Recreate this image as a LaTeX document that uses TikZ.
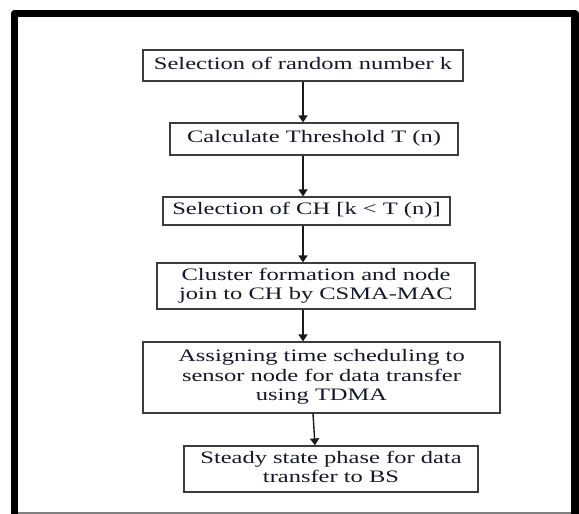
\documentclass[tikz,border=0pt]{standalone}
\usepackage{fontspec}
\setmainfont{Liberation Serif}
\usetikzlibrary{arrows.meta}
\definecolor{inkc}{RGB}{22,22,40}
\definecolor{edgec}{RGB}{60,60,60}
\newcommand{\widetxt}[1]{\scalebox{1.4}[1]{\fontsize{17.5}{19.5}\selectfont\begin{tabular}{@{}c@{}}#1\end{tabular}}}
\tikzset{
  box/.style={draw=edgec, line width=1.2pt, inner sep=0pt, text=inkc},
  arr/.style={draw=black!90, line width=1.4pt, -{Triangle[width=9pt,length=7pt]}}
}
\begin{document}
\begin{tikzpicture}[x=1pt,y=-1pt]
\useasboundingbox (0,0) rectangle (579,514);
\draw[line width=7.5pt, line join=round] (14.5,520) -- (14.5,13.5) -- (575,13.5) -- (575,520);
\draw[gray, line width=1.5pt] (18,513) -- (571,513);
\node[box, minimum width=320pt, minimum height=31pt] (st0) at (303,65.5){\widetxt{Selection of random number k}};
\node[box, minimum width=288pt, minimum height=32pt] (st1) at (314,139){\widetxt{Calculate Threshold T (n)}};
\draw[arr](st0.south) -- (st0.south |- st1.north);
\node[box, minimum width=287pt, minimum height=28pt] (st2) at (306.5,211){\widetxt{Selection of CH [k < T (n)]}};
\draw[arr](st0.south |- st1.south) -- (st0.south |- st2.north);
\node[box, minimum width=318pt, minimum height=46pt] (st3) at (316,286){\widetxt{Cluster formation and node\\join to CH by CSMA-MAC}};
\draw[arr](st0.south |- st2.south) -- (st0.south |- st3.north);
\node[box, minimum width=357pt, minimum height=71pt] (st4) at (321.5,377.5){\widetxt{Assigning time scheduling to\\sensor node for data transfer\\using TDMA}};
\draw[arr](st0.south |- st3.south) -- (st0.south |- st4.north);
\node[box, minimum width=294pt, minimum height=46pt] (st5) at (331,469){\widetxt{Steady state phase for data\\transfer to BS}};
\draw[arr]([xshift=-8.5pt]st4.south) -- ([xshift=-16pt]st5.north);
\end{tikzpicture}
\end{document}
